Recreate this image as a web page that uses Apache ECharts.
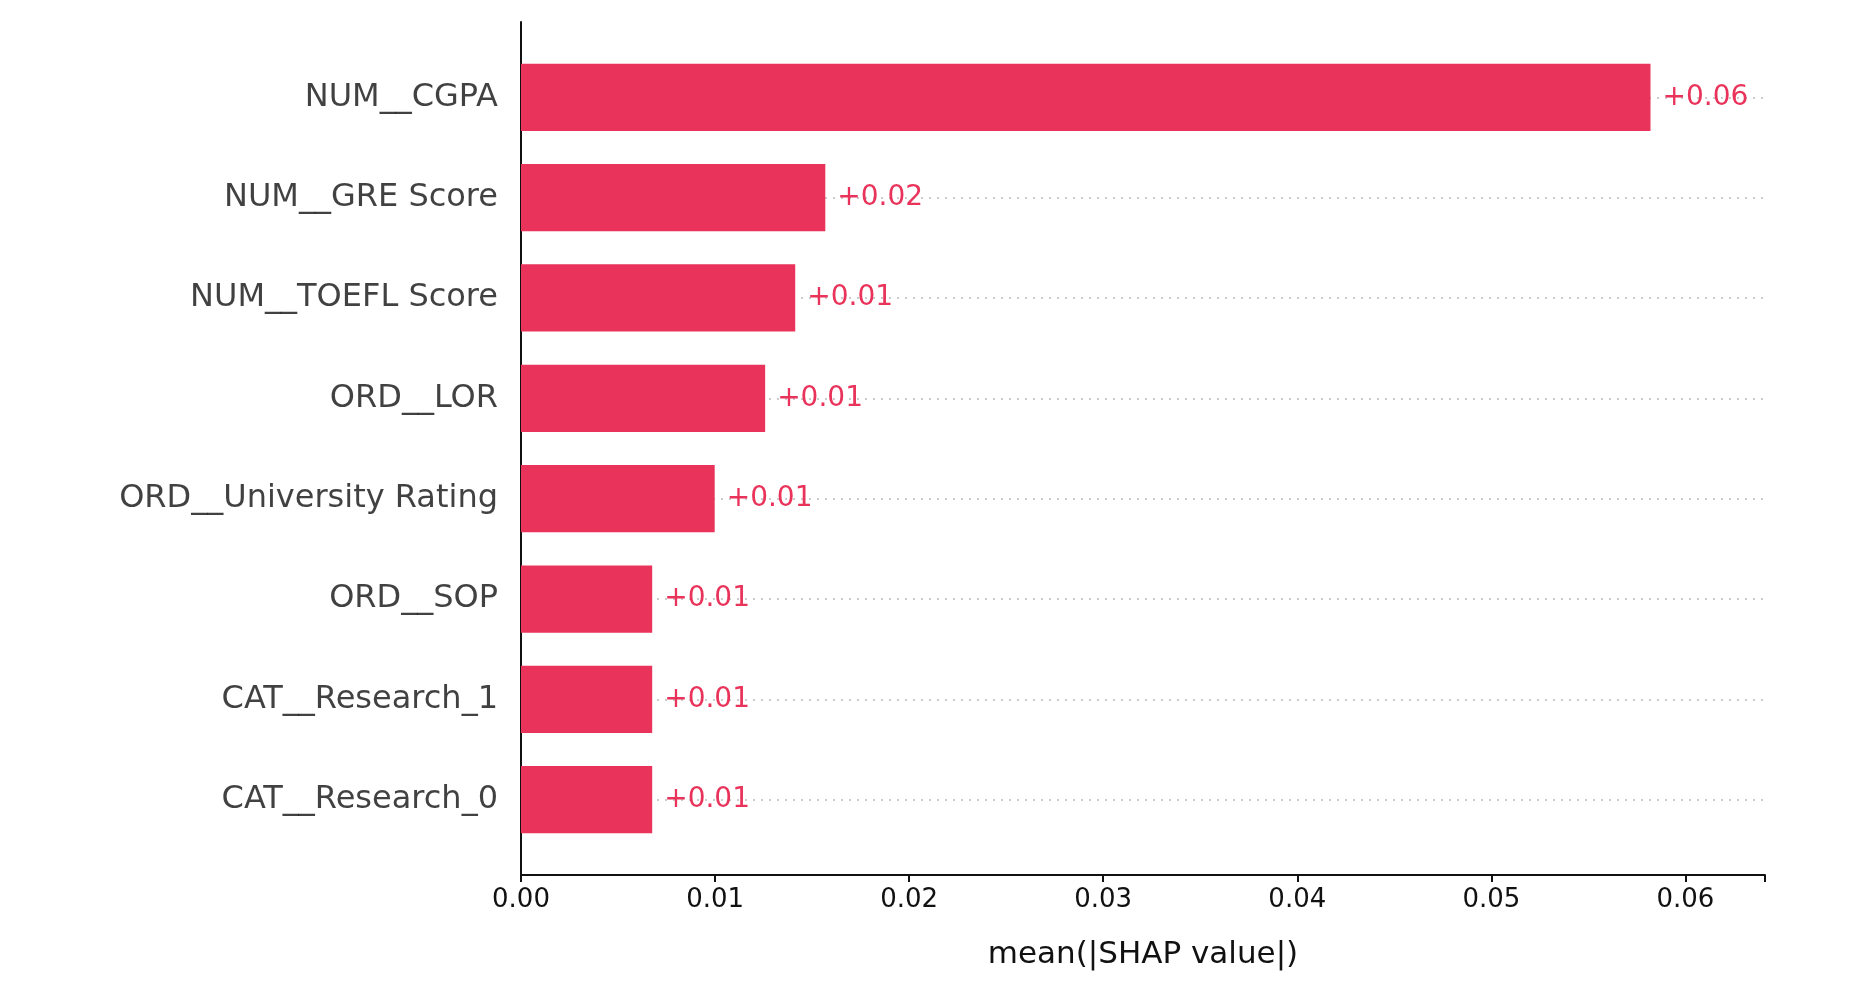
<!DOCTYPE html>
<html><head><meta charset="utf-8">
<script src="https://cdn.jsdelivr.net/npm/echarts@6/dist/echarts.min.js"></script>
<style>html,body{margin:0;padding:0;background:#fff}#c{width:1876px;height:992px}</style>
</head><body><div id="c"></div>
<script>
const categories = ["NUM__CGPA","NUM__GRE Score","NUM__TOEFL Score","ORD__LOR","ORD__University Rating","ORD__SOP","CAT__Research_1","CAT__Research_0"];
const values = [0.0582,0.01568,0.01413,0.01258,0.00998,0.00676,0.00676,0.00676];
const xTicks = [0,0.01,0.02,0.03,0.04,0.05,0.06];
const red = '#e9335a';
const font = 'DejaVu Sans';
const chart = echarts.init(document.getElementById('c'));
chart.setOption({
  animation:false,
  grid:{left:521,right:111,top:22,bottom:117},
  xAxis:{type:'value',min:0,max:0.0641,interval:0.01,
    name:'mean(|SHAP value|)',nameLocation:'middle',nameGap:64,
    nameTextStyle:{fontFamily:font,fontSize:31,color:'#111'},
    axisLine:{show:true,onZero:false,lineStyle:{color:'#111',width:2}},
    axisTick:{show:true,length:7,lineStyle:{color:'#111',width:2}},
    axisLabel:{fontFamily:font,fontSize:26,color:'#111',margin:12,
      formatter:v=>xTicks.some(t=>Math.abs(t-v)<1e-9)?v.toFixed(2):''},
    splitLine:{show:false}},
  yAxis:{type:'value',inverse:true,min:-0.75,max:7.75,
    axisLine:{show:true,onZero:false,lineStyle:{color:'#111',width:2}},
    axisTick:{show:false},axisLabel:{show:false},splitLine:{show:false}},
  series:[
    {type:'custom',z:3,data:values.map((v,i)=>[v,i]),encode:{x:0,y:1},
     renderItem:(params,api)=>{
       const v=api.value(0), i=api.value(1);
       const p0=api.coord([0,i-0.335]), p1=api.coord([v,i+0.335]), pm=api.coord([v,i]);
       return {type:'group',children:[
         {type:'rect',shape:{x:p0[0],y:p0[1],width:p1[0]-p0[0],height:p1[1]-p0[1]},style:{fill:red}},
         {type:'text',x:pm[0]+12,y:pm[1],style:{text:'+'+v.toFixed(2),fill:red,font:'28px "DejaVu Sans"',textVerticalAlign:'middle',textAlign:'left'}}
       ]};
     },
     markLine:{silent:true,symbol:'none',z:0,label:{show:false},
       lineStyle:{type:[2,6],color:'#bbb',width:1.5},
       data:categories.map((c,i)=>[{coord:[0,i]},{coord:[0.0641,i]}])}
    },
    {type:'scatter',symbolSize:0,data:categories.map((c,i)=>[0,i,c]),
     label:{show:true,position:'left',distance:23,color:'#111',fontFamily:font,fontSize:32,
       formatter:p=>p.value[2]}}
  ]
});
</script></body></html>
